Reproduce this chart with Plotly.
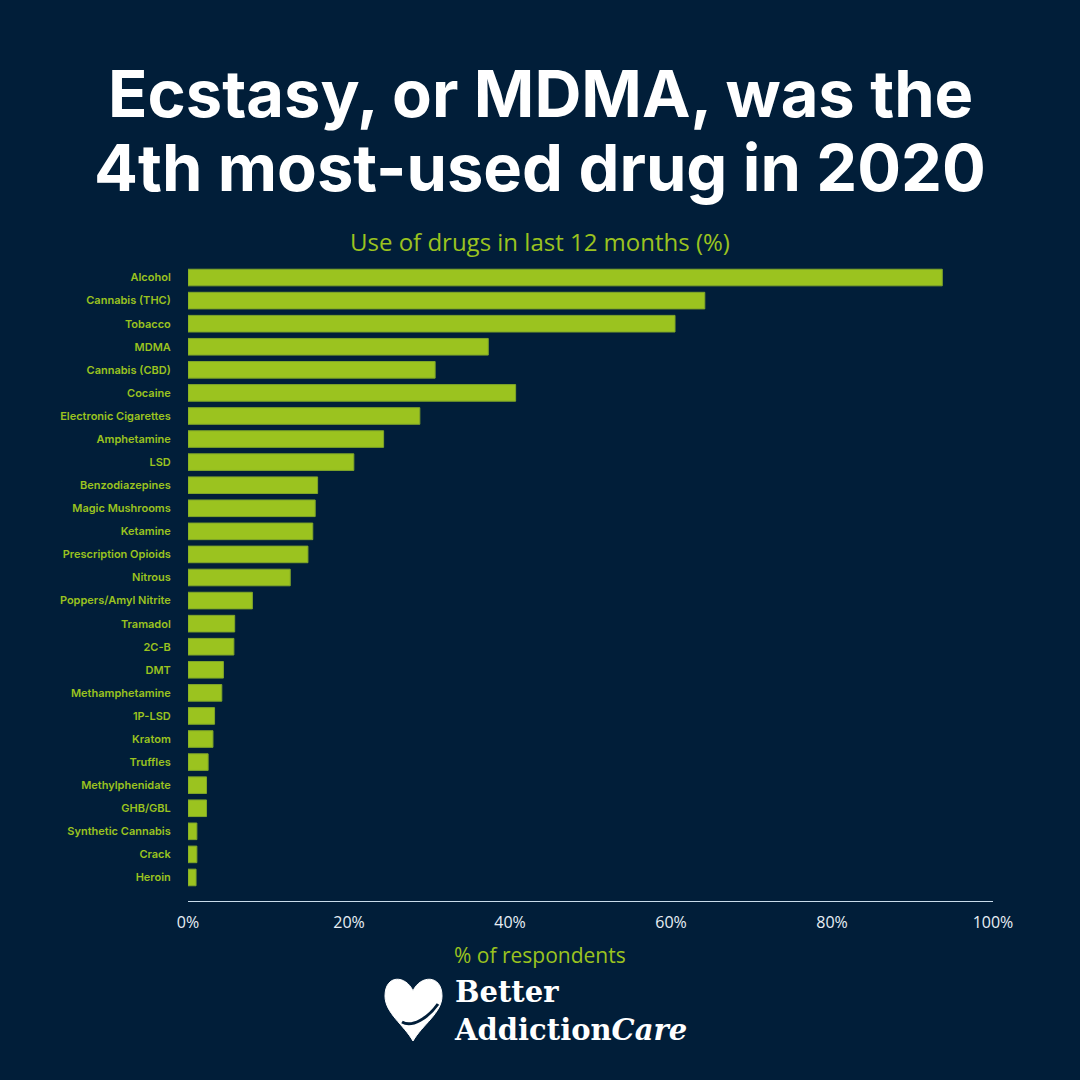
import plotly.graph_objects as go

drugs = ["Alcohol", "Cannabis (THC)", "Tobacco", "MDMA", "Cannabis (CBD)", "Cocaine",
         "Electronic Cigarettes", "Amphetamine", "LSD", "Benzodiazepines", "Magic Mushrooms",
         "Ketamine", "Prescription Opioids", "Nitrous", "Poppers/Amyl Nitrite", "Tramadol",
         "2C-B", "DMT", "Methamphetamine", "1P-LSD", "Kratom", "Truffles", "Methylphenidate",
         "GHB/GBL", "Synthetic Cannabis", "Crack", "Heroin"]
values = [93.7, 64.2, 60.5, 37.3, 30.7, 40.7, 28.8, 24.3, 20.6, 16.1, 15.8, 15.5, 14.9,
          12.7, 8.0, 5.8, 5.7, 4.4, 4.2, 3.3, 3.1, 2.5, 2.3, 2.3, 1.1, 1.1, 1.0]
x_ticks = [0, 20, 40, 60, 80, 100]

BG = "#011E39"
GREEN = "#9BC31F"

W = H = 1080
L, R = 188, 993
T, B = 266, 901

def px(x):
    return (x - L) / (R - L)

def py(y):
    return (B - y) / (B - T)

fig = go.Figure(go.Bar(
    x=values, y=drugs, orientation="h",
    marker=dict(color=GREEN, line=dict(color="#7FA52A", width=1)),
    width=0.72,
))

fig.update_layout(
    width=W, height=H,
    paper_bgcolor=BG, plot_bgcolor=BG,
    margin=dict(l=L, r=W - R, t=T, b=H - B, pad=0),
    showlegend=False,
    font=dict(family="Inter", color="white"),
)
fig.update_yaxes(
    categoryorder="array", categoryarray=drugs,
    range=[27.02, -0.5],
    showgrid=False, zeroline=False, showline=False,
    tickfont=dict(family="Inter", size=11, color=GREEN, weight=600),
    ticks="outside", ticklen=14, tickcolor="rgba(0,0,0,0)",
)
fig.update_xaxes(
    range=[0, 100], tickvals=x_ticks, ticktext=[f"{v}%" for v in x_ticks],
    showgrid=False, zeroline=False,
    showline=True, linecolor="#C9DCEB", linewidth=1,
    ticks="outside", ticklen=7, tickcolor="rgba(0,0,0,0)",
    tickfont=dict(family="Open Sans", size=16, color="#E8EEF4"),
)

ann = []
ann.append(dict(text="<b>Ecstasy, or MDMA, was the</b>", x=px(540), y=py(94), xref="paper", yref="paper",
                showarrow=False, font=dict(family="Inter", size=65, color="white", weight=800),
                xanchor="center", yanchor="middle"))
ann.append(dict(text="<b>4th most-used drug in 2020</b>", x=px(540), y=py(167), xref="paper", yref="paper",
                showarrow=False, font=dict(family="Inter", size=65, color="white", weight=800),
                xanchor="center", yanchor="middle"))
ann.append(dict(text="Use of drugs in last 12 months (%)", x=px(540), y=py(241), xref="paper", yref="paper",
                showarrow=False, font=dict(family="Open Sans", size=24, color=GREEN),
                xanchor="center", yanchor="middle"))
ann.append(dict(text="% of respondents", x=px(540), y=py(955), xref="paper", yref="paper",
                showarrow=False, font=dict(family="Open Sans", size=21, color=GREEN),
                xanchor="center", yanchor="middle"))
ann.append(dict(text="<b>Better</b><br><b>Addiction</b><b><i>Care</i></b>", x=px(452), y=py(1011),
                xref="paper", yref="paper", align="left",
                showarrow=False, font=dict(family="DejaVu Serif", size=29, color="white"),
                xanchor="left", yanchor="middle"))
fig.update_layout(annotations=ann)

def path(cmds):
    out = []
    for c in cmds:
        if isinstance(c, str):
            out.append(c)
        else:
            out.append(f"{px(c[0]):.5f},{py(c[1]):.5f}")
    return " ".join(out)

heart = path(["M", (413, 991),
              "C", (406, 975), (385, 974), (385, 996),
              "C", (385, 1013), (404, 1025), (413, 1041),
              "C", (422, 1025), (442, 1013), (442, 996),
              "C", (442, 974), (420, 975), (413, 991), "Z"])
arm = path(["M", (402, 1022), "C", (412, 1028), (428, 1018), (438, 1004)])
fig.add_shape(type="path", path=heart, xref="paper", yref="paper",
              fillcolor="white", line=dict(color="white", width=1), layer="above")
fig.add_shape(type="path", path=arm, xref="paper", yref="paper",
              line=dict(color=BG, width=3), layer="above")

fig.write_html("out.html", config={"displayModeBar": False},
               post_script="document.body.style.margin='0';document.body.style.background='%s';" % BG)
